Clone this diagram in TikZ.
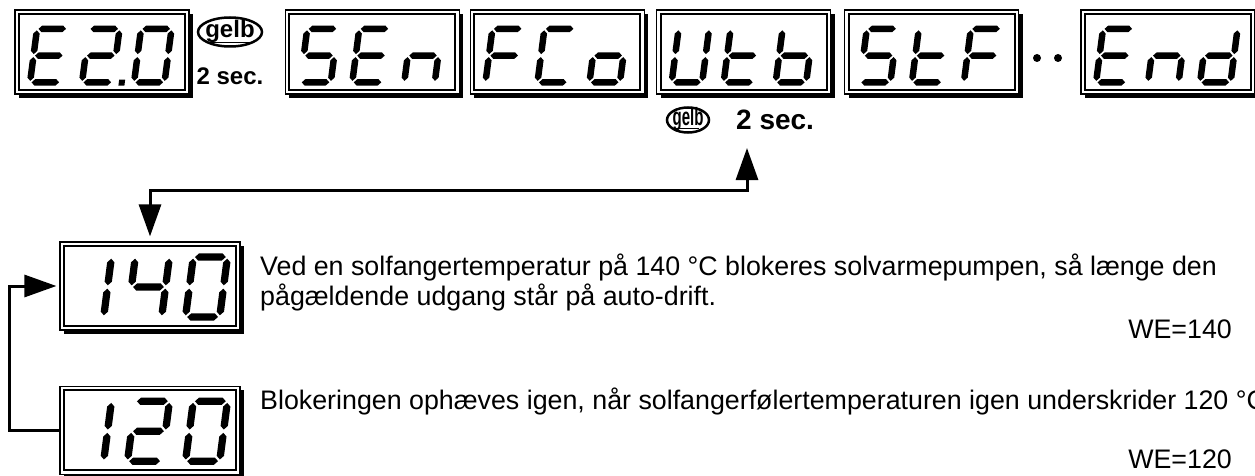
\documentclass[tikz,border=0pt]{standalone}
\usepackage{fontspec}
\setmainfont{Liberation Sans}
\usetikzlibrary{
  arrows.meta,
  positioning,
  shapes.geometric,
  calc,
  shadows
}

% seven-segment bars (cell 37 x 60, bar 6.5)
\newcommand\segh{3.25}
\newcommand\hseg[3]{\fill (#1,#3) -- ++(\segh,\segh) -- ({#2-\segh},{#3+\segh}) -- (#2,#3)
  -- ({#2-\segh},{#3-\segh}) -- ({#1+\segh},{#3-\segh}) -- cycle;}
\newcommand\vseg[3]{\fill (#1,#2) -- ++(\segh,\segh) -- ({#1+\segh},{#3-\segh}) -- (#1,#3)
  -- ({#1-\segh},{#3-\segh}) -- ({#1-\segh},{#2+\segh}) -- cycle;}
\newcommand\segA{\hseg{4.75}{32.25}{56.75}}
\newcommand\segB{\vseg{33.75}{31.5}{55.25}}
\newcommand\segC{\vseg{33.75}{4.75}{28.5}}
\newcommand\segD{\hseg{4.75}{32.25}{3.25}}
\newcommand\segE{\vseg{3.25}{4.75}{28.5}}
\newcommand\segF{\vseg{3.25}{31.5}{55.25}}
\newcommand\segG{\hseg{4.75}{32.25}{30}}
\newcommand\segP{\fill (40,0) rectangle (46,6);}

\newcommand\segdigit[3][1]{%
  \begin{scope}[shift={#2}, xslant=0.13, scale=#1]
    \foreach \s in {#3} {\csname seg\s\endcsname}
  \end{scope}}

% three digits in a display
\newcommand\readout[4]{%
  \segdigit{($(#1.south west)+(12,9)$)}{#2}
  \segdigit{($(#1.south west)+(64,9)$)}{#3}
  \segdigit{($(#1.south west)+(116,9)$)}{#4}}
\newcommand\bigreadout[4]{%
  \segdigit[1.12]{($(#1.south west)+(6,10)$)}{#2}
  \segdigit[1.12]{($(#1.south west)+(64,10)$)}{#3}
  \segdigit[1.12]{($(#1.south west)+(122,10)$)}{#4}}

\begin{document}
\begin{tikzpicture}[
  x=1pt, y=1pt,
  display/.style={draw, line width=1.2pt, fill=white, inner sep=0pt,
    minimum width=174pt, minimum height=84pt,
    drop shadow={shadow xshift=4pt, shadow yshift=-4pt, fill=black, opacity=1},
    path picture={\draw[line width=2pt]
      ([shift={(4pt,4pt)}]path picture bounding box.south west) rectangle
      ([shift={(-4pt,-4pt)}]path picture bounding box.north east);}},
  bigdisplay/.style={display, minimum width=180pt, minimum height=88pt},
  keybadge/.style={draw, ellipse, line width=2.5pt, inner sep=0pt,
    path picture={\draw[line width=1pt]
      ([shift={(10pt,4pt)}]path picture bounding box.south west) --
      ([shift={(-10pt,4pt)}]path picture bounding box.south east);}},
  keylabel/.style={font=\fontsize{28}{28}\selectfont\bfseries, inner sep=0pt},
  infotext/.style={font=\fontsize{26.8}{30}\selectfont, inner sep=0pt, align=left},
  arrowline/.style={line width=3pt}
]
  \useasboundingbox (0,0) rectangle (1255,475);
  \clip (0,0) rectangle (1255,475);

  % menu row
  \node[display] (e20) at (102,423) {};
  \node[display, right=95pt of e20] (sen) {};
  \node[display, right=10pt of sen] (fco) {};
  \node[display, right=11pt of fco] (utb) {};
  \node[display, right=13pt of utb] (stf) {};
  \node[display, right=61pt of stf] (fin) {};

  \readout{e20}{A,D,E,F,G}{A,B,D,E,G,P}{A,B,C,D,E,F}
  \readout{sen}{A,C,D,F,G}{A,D,E,F,G}{C,E,G}
  \readout{fco}{A,E,F,G}{A,D,E,F}{C,D,E,G}
  \readout{utb}{B,C,D,E,F}{D,E,F,G}{C,D,E,F,G}
  \readout{stf}{A,C,D,F,G}{D,E,F,G}{A,E,F,G}
  \readout{fin}{A,D,E,F,G}{C,E,G}{B,C,D,E,G}

  % dots
  \fill (1037,417) circle (4);
  \fill (1058,417) circle (4);

  % gelb key after E2.0
  \node[keybadge, minimum width=64pt, minimum height=29pt] (keytop) at (230,443) {};
  \node[keylabel, font=\fontsize{24}{24}\selectfont\bfseries]
    (keytoptxt) at ([yshift=1pt]keytop) {gelb};
  \node[keylabel, font=\fontsize{24}{24}\selectfont\bfseries, anchor=base]
    (sectop) at (230,390) {2 sec.};

  % gelb key below Utb
  \node[keybadge, minimum width=42pt, minimum height=25pt] (keyutb) at (688,355) {};
  \node[keylabel, font=\fontsize{25}{25}\selectfont\bfseries]
    (keyutbtxt) at ([yshift=1pt]keyutb) {\scalebox{0.6}[1]{gelb}};
  \node[keylabel, anchor=base west] (secutb) at (736,345) {2 sec.};

  % set values
  \node[bigdisplay] (v140) at (150,189) {};
  \node[bigdisplay, below=55pt of v140] (v120) {};
  \bigreadout{v140}{B,C}{B,C,F,G}{A,B,C,D,E,F}
  \bigreadout{v120}{B,C}{A,B,D,E,G}{A,B,C,D,E,F}

  % arrows
  \coordinate (keyup) at (747,327);
  \draw[arrowline, {Triangle[length=32pt,width=22pt]}-{Triangle[length=32pt,width=22pt]}]
    ([yshift=5pt]v140.north) -- ++(0,46) -| (keyup);
  \draw[arrowline, -{Triangle[length=32pt,width=22pt]}]
    (v120.west) -- ++(-50,0) |- ([xshift=-3pt]v140.west);

  % texts
  \node[infotext, anchor=base west] (txt140) at (260,170)
    {Ved en solfangertemperatur på 140 °C blokeres solvarmepumpen, så længe den\\
     pågældende udgang står på auto-drift.};
  \node[infotext, anchor=base east] (we140) at (1232,137) {WE=140};
  \node[infotext, anchor=base west] (txt120) at (260,66)
    {Blokeringen ophæves igen, når solfangerfølertemperaturen igen underskrider 120 °C};
  \node[infotext, anchor=base east] (we120) at (1232,7) {WE=120};
\end{tikzpicture}
\end{document}
